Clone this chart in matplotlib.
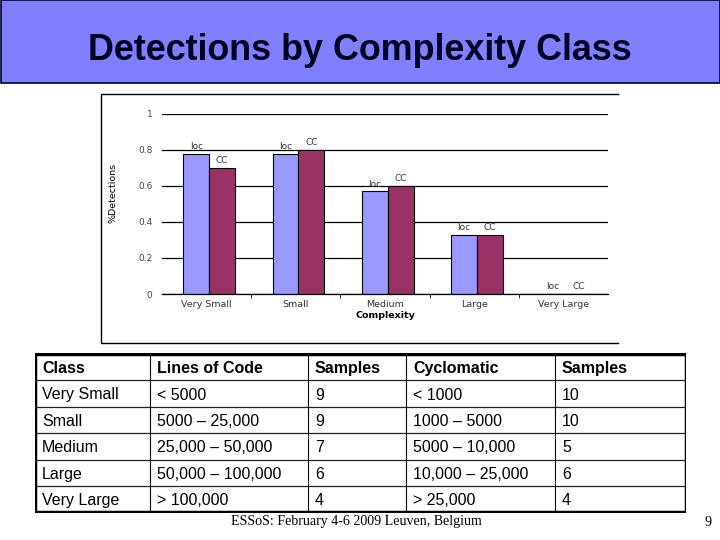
import numpy as np
import matplotlib.pyplot as plt
from matplotlib.patches import Rectangle

# chart data
classes = ['Very Small', 'Small', 'Medium', 'Large', 'Very Large']
loc_det = [0.78, 0.78, 0.57, 0.33, 0.0]
cc_det = [0.70, 0.80, 0.60, 0.33, 0.0]
yticks = [0, 0.2, 0.4, 0.6, 0.8, 1]

# table data
tbl_header = ['Class', 'Lines of Code', 'Samples', 'Cyclomatic', 'Samples']
tbl_class = ['Very Small', 'Small', 'Medium', 'Large', 'Very Large']
tbl_loc = ['< 5000', '5000 \u2013 25,000', '25,000 \u2013 50,000', '50,000 \u2013 100,000', '> 100,000']
tbl_loc_n = ['9', '9', '7', '6', '4']
tbl_cc = ['< 1000', '1000 \u2013 5000', '5000 \u2013 10,000', '10,000 \u2013 25,000', '> 25,000']
tbl_cc_n = ['10', '10', '5', '6', '4']

W, H = 720, 540
fig = plt.figure(figsize=(7.2, 5.4), dpi=100)
fig.patch.set_facecolor('white')

def fx(x):
    return x / W

def fy(y):
    return 1 - y / H

# --- title band ---
fig.patches.append(Rectangle((fx(0.5), fy(83)), fx(719), 83 / H, transform=fig.transFigure,
                             facecolor='#8080FF', edgecolor='#000033', lw=1.2))
fig.text(fx(360), fy(51), 'Detections by Complexity Class', ha='center', va='center',
         fontsize=25.8, fontweight='bold', family='Liberation Sans', color='#000022')

# --- chart picture frame (left, top, bottom only) ---
fig.lines.append(plt.Line2D([fx(618), fx(101), fx(101), fx(618)],
                            [fy(94), fy(94), fy(343), fy(343)],
                            transform=fig.transFigure, color='black', lw=1))

# --- the bar chart ---
ax = fig.add_axes([fx(162), fy(294), (608 - 162) / W, (294 - 114) / H])
x = np.arange(len(classes))
bw = 0.29
b1 = ax.bar(x - bw / 2 + 0.03, loc_det, bw, color='#9999FF', edgecolor='black', lw=0.8)
b2 = ax.bar(x + bw / 2 + 0.03, cc_det, bw, color='#993366', edgecolor='black', lw=0.8)
for r in b1:
    ax.text(r.get_x() + r.get_width() / 2, r.get_height() + 0.015, 'loc',
            ha='center', va='bottom', fontsize=6.5, color='#333333')
for r in b2:
    ax.text(r.get_x() + r.get_width() / 2, r.get_height() + 0.015, 'CC',
            ha='center', va='bottom', fontsize=6.5, color='#333333')
ax.set_xlim(-0.5, len(classes) - 0.5)
ax.set_ylim(0, 1)
ax.set_yticks(yticks)
ax.set_yticklabels([f'{v:g}' for v in yticks], fontsize=6.5, color='#444444')
ax.yaxis.grid(True, color='black', lw=0.9)
ax.set_axisbelow(True)
ax.tick_params(axis='y', length=0, pad=7)
ax.set_xticks(x)
ax.set_xticklabels(classes, fontsize=6.8, color='#333333')
ax.set_xticks(x[:-1] + 0.5, minor=True)
ax.tick_params(axis='x', which='major', length=0, pad=4)
ax.tick_params(axis='x', which='minor', length=3, direction='out', color='black')
for s in ['left', 'right', 'top']:
    ax.spines[s].set_visible(False)
ax.spines['bottom'].set_linewidth(0.9)
ax.set_xlabel('Complexity', fontsize=6.8, fontweight='bold', labelpad=2)
ax.set_ylabel('%Detections', fontsize=6.8)
ax.yaxis.set_label_coords(-0.1, 0.56)

# --- table ---
tax = fig.add_axes([fx(35), fy(513), (686 - 35) / W, (513 - 353) / H])
tax.set_xlim(35, 686)
tax.set_ylim(513, 353)
tax.axis('off')
col_x = [35, 150, 308, 406, 555, 686]
row_y = [354, 380, 407, 433, 460, 486, 512]
for cx in col_x[1:-1]:
    tax.plot([cx, cx], [row_y[0], row_y[-1]], color='black', lw=0.8)
for ry in row_y[1:-1]:
    tax.plot([col_x[0], col_x[-1]], [ry, ry], color='#222222', lw=0.9)
tax.add_patch(Rectangle((col_x[0], row_y[0]), col_x[-1] - col_x[0], row_y[-1] - row_y[0],
                        fill=False, edgecolor='black', lw=2.5))
cols = [tbl_class, tbl_loc, tbl_loc_n, tbl_cc, tbl_cc_n]
for j, head in enumerate(tbl_header):
    yc = (row_y[0] + row_y[1]) / 2
    tax.text(col_x[j] + 7, yc, head, ha='left', va='center_baseline', fontsize=11.5,
             fontweight='bold', family='Liberation Sans')
    for i, val in enumerate(cols[j]):
        yc = (row_y[i + 1] + row_y[i + 2]) / 2
        tax.text(col_x[j] + 7, yc, val, ha='left', va='center_baseline', fontsize=11.5,
                 family='Liberation Sans')

# --- footer ---
fig.text(fx(356), fy(522), 'ESSoS: February 4-6 2009 Leuven, Belgium', ha='center',
         va='center', fontsize=10.1, family='Liberation Serif')
fig.text(fx(708), fy(522), '9', ha='center', va='center', fontsize=10.1,
         family='Liberation Serif')

fig.savefig('out.png', dpi=100)
